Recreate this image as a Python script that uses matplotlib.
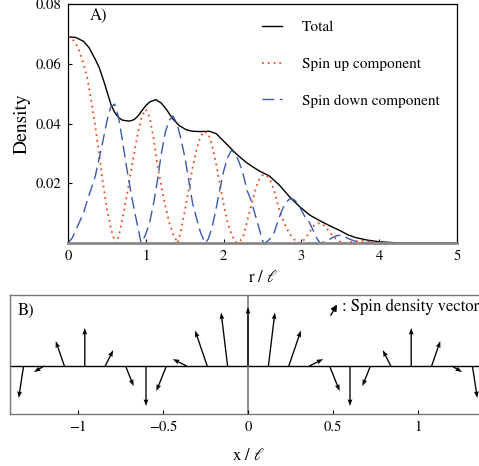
import matplotlib
matplotlib.use('Agg')
import matplotlib.pyplot as plt

plt.rcParams['font.family'] = ['STIXGeneral', 'Liberation Serif', 'DejaVu Serif']
plt.rcParams['mathtext.fontset'] = 'stix'

# panel A: radial densities
r_total = [0, 0.1, 0.2, 0.27, 0.35, 0.4, 0.45, 0.5, 0.55, 0.6, 0.65, 0.7, 0.79, 0.85, 0.9,
           0.95, 1.0, 1.05, 1.13, 1.2, 1.26, 1.345, 1.43, 1.52, 1.6, 1.7, 1.82, 1.905, 2.035,
           2.16, 2.29, 2.38, 2.46, 2.59, 2.72, 2.85, 2.98, 3.11, 3.24, 3.37, 3.5, 3.6, 3.7, 3.84,
           4.0, 4.2, 4.4, 5.0]
total = [0.069, 0.0688, 0.0675, 0.0654, 0.0615, 0.0588, 0.055, 0.0508, 0.0465, 0.0437,
         0.042, 0.0411, 0.0408, 0.0413, 0.0425, 0.0443, 0.046, 0.0472, 0.048, 0.0468,
         0.0449, 0.0416, 0.0393, 0.0379, 0.0374, 0.0373, 0.0374, 0.0366, 0.0332, 0.0299,
         0.0270, 0.0254, 0.0241, 0.0224, 0.0193, 0.0154, 0.0121, 0.0093, 0.0074, 0.0057, 0.0041,
         0.0027, 0.0018, 0.001, 0.0004, 0.0001, 0.0, 0.0]

r_up = [0, 0.05, 0.1, 0.15, 0.2, 0.25, 0.3, 0.35, 0.4, 0.45, 0.5, 0.55, 0.6, 0.61,
        0.65, 0.7, 0.75, 0.8, 0.85, 0.9, 0.95, 1.0, 1.05, 1.1, 1.15, 1.2, 1.25, 1.3, 1.35, 1.41,
        1.45, 1.5, 1.55, 1.6, 1.65, 1.7, 1.75, 1.8, 1.85, 1.9, 1.95, 2.0, 2.05, 2.1, 2.15, 2.18,
        2.2, 2.25, 2.3, 2.35, 2.4, 2.45, 2.5, 2.55, 2.6, 2.65, 2.7, 2.75, 2.8, 2.85, 2.9, 2.95, 2.98,
        3.0, 3.05, 3.1, 3.15, 3.2, 3.25, 3.3, 3.35, 3.4, 3.45, 3.5, 3.55,
        3.6, 3.7, 3.8, 3.9, 4.0, 4.1, 5.0]
spin_up = [0.069, 0.0685, 0.0668, 0.064, 0.060, 0.055, 0.0475, 0.039, 0.030, 0.020, 0.0115, 0.005, 0.0005, 0.0,
           0.002, 0.008, 0.015, 0.0225, 0.030, 0.037, 0.0425, 0.0447, 0.042, 0.035, 0.026, 0.019, 0.0125, 0.007, 0.003, 0.0,
           0.004, 0.0105, 0.0175, 0.025, 0.031, 0.0355, 0.0373, 0.0368, 0.033, 0.027, 0.020, 0.013, 0.007, 0.003, 0.0005, 0.0,
           0.0003, 0.002, 0.007, 0.012, 0.017, 0.021, 0.0227, 0.0228, 0.021, 0.0175, 0.0125, 0.0085, 0.0055, 0.003, 0.0013, 0.0003, 0.0,
           0.0002, 0.0015, 0.0035, 0.0055, 0.0066, 0.0066, 0.0057, 0.004, 0.0025, 0.0012, 0.0004, 0.0,
           0.0002, 0.0006, 0.0007, 0.0004, 0.0001, 0.0, 0.0]

r_down = [0, 0.05, 0.1, 0.15, 0.2, 0.25, 0.3, 0.35, 0.4, 0.45, 0.5, 0.55, 0.6, 0.65, 0.7, 0.75,
          0.8, 0.85, 0.9, 0.94,
          0.95, 1.0, 1.05, 1.1, 1.15, 1.2, 1.25, 1.3, 1.35, 1.4, 1.45, 1.5, 1.55, 1.6, 1.65, 1.7, 1.76,
          1.8, 1.85, 1.9, 1.95, 2.0, 2.05, 2.1, 2.15, 2.2, 2.25, 2.3, 2.35, 2.4, 2.45, 2.5, 2.52,
          2.55, 2.6, 2.65, 2.7, 2.75, 2.8, 2.85, 2.9, 2.95, 3.0, 3.05, 3.1, 3.15, 3.2, 3.24,
          3.3, 3.35, 3.4, 3.45, 3.5, 3.55, 3.6, 3.7, 3.8, 3.9, 4.0, 4.2, 5.0]
spin_down = [0, 0.0015, 0.0043, 0.0072, 0.010, 0.0145, 0.0183, 0.0223, 0.0283, 0.0343, 0.0408, 0.0455, 0.0465, 0.042, 0.0343, 0.0258,
             0.0182, 0.0113, 0.005, 0.0,
             0.0002, 0.003, 0.007, 0.0132, 0.021, 0.030, 0.037, 0.041, 0.0425, 0.040, 0.035, 0.029, 0.0215, 0.0135, 0.0085, 0.0038, 0.0,
             0.0012, 0.005, 0.011, 0.0177, 0.024, 0.0285, 0.031, 0.030, 0.027, 0.0232, 0.0177, 0.0145, 0.010, 0.0055, 0.0008, 0.0,
             0.0003, 0.0015, 0.0035, 0.0075, 0.011, 0.0135, 0.0148, 0.0146, 0.0135, 0.011, 0.0085, 0.007, 0.0043, 0.0015, 0.0,
             0.0004, 0.001, 0.0018, 0.0024, 0.0026, 0.0022, 0.0015, 0.0005, 0.0001, 0.0002, 0.0001, 0.0, 0.0]

# panel B: spin density vectors along x
spin_pos = [-1.32, -1.20, -1.08, -0.96, -0.84, -0.72, -0.60, -0.48, -0.36, -0.24, -0.12, 0.0,
            0.12, 0.24, 0.36, 0.48, 0.60, 0.72, 0.84, 0.96, 1.08, 1.20, 1.32]
spin_sx = [-0.029, -0.059, -0.051, 0.0, 0.047, 0.047, 0.0, -0.059, -0.082, -0.071, -0.038, 0.0,
           0.038, 0.071, 0.082, 0.059, 0.0, -0.047, -0.047, 0.0, 0.051, 0.059, 0.029]
spin_sz = [-0.188, -0.035, 0.147, 0.224, 0.094, -0.118, -0.235, -0.147, 0.041, 0.209, 0.315, 0.347,
           0.315, 0.209, 0.041, -0.147, -0.235, -0.118, 0.094, 0.224, 0.147, -0.035, -0.188]

fig = plt.figure(figsize=(4.79, 4.66), dpi=100)

# ---- A ----
ax = fig.add_axes([68 / 479, 1 - 243 / 466, 389 / 479, 239 / 466])
ax.plot(r_total, total, color='black', lw=1.0, label='Total')
ax.plot(r_up, spin_up, color='#f04a1e', lw=1.3, linestyle=(0, (1, 2.2)), label='Spin up component')
ax.plot(r_down, spin_down, color='#3a58b0', lw=1.0, linestyle=(0, (8.5, 4)), label='Spin down component')
ax.set_xlim(0, 5)
ax.set_ylim(0, 0.08)
ax.set_xticks([0, 1, 2, 3, 4, 5])
ax.set_yticks([0.02, 0.04, 0.06, 0.08])
ax.set_yticklabels(['0.02', '0.04', '0.06', '0.08'])
ax.tick_params(direction='in', length=3, width=0.8, labelsize=10.5, pad=5)
ax.spines['bottom'].set_color('#888888')
ax.spines['bottom'].set_linewidth(2)
for s in ['top', 'right', 'left']:
    ax.spines[s].set_linewidth(0.9)
ax.set_ylabel('Density', fontsize=14, labelpad=3)
ax.set_xlabel(r'r / $\ell$', fontsize=12, labelpad=5)
ax.text(0.057, 0.95, 'A)', transform=ax.transAxes, fontsize=12, va='center', ha='left')
ax.legend(loc='upper left', bbox_to_anchor=(0.499, 0.93), frameon=False, fontsize=11,
          handlelength=1.3, handletextpad=1.3, labelspacing=1.5, borderpad=0, borderaxespad=0)

# ---- B ----
bx = fig.add_axes([10 / 479, 1 - 414 / 466, 476 / 479, 119 / 466])
bx.set_xlim(-1.4, 1.4)
bx.set_ylim(-0.282, 0.418)
bx.axhline(0, color='black', lw=1.0, zorder=1)
bx.axvline(0, color='#777777', lw=1.2, zorder=1)
bx.quiver(spin_pos, [0] * len(spin_pos), spin_sx, spin_sz, angles='xy', scale_units='xy', scale=1,
          color='black', width=0.0028, headwidth=3.6, headlength=5, headaxislength=4.5, zorder=3)
bx.set_xticks([-1, -0.5, 0, 0.5, 1])
bx.set_xticklabels(['\u22121', '\u22120.5', '0', '0.5', '1'])
bx.set_yticks([])
bx.tick_params(direction='in', length=3, width=0.8, labelsize=10.5, pad=5)
for s in bx.spines.values():
    s.set_color('#777777')
    s.set_linewidth(1.0)
bx.set_xlabel(r'x / $\ell$', fontsize=12, labelpad=10)
bx.text(0.016, 0.87, 'B)', transform=bx.transAxes, fontsize=12, va='center', ha='left')
bx.annotate('', xy=(0.690, 0.94), xytext=(0.671, 0.81), xycoords='axes fraction',
            arrowprops=dict(arrowstyle='-|>', color='black', lw=1.0, mutation_scale=9))
bx.text(0.697, 0.9, ': Spin density vector', transform=bx.transAxes, fontsize=12,
        va='center', ha='left')

fig.savefig('out.png', dpi=100)
